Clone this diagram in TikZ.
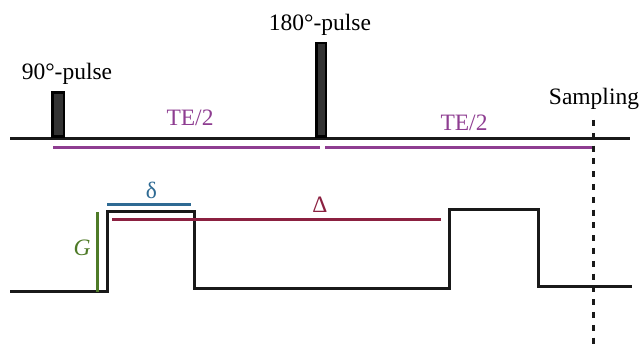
\documentclass[tikz,border=0pt]{standalone}
\usepackage{fontspec}
\setmainfont{Liberation Serif}
\definecolor{tepurple}{HTML}{8E3D91}
\definecolor{delmaroon}{HTML}{8B2040}
\definecolor{delblue}{HTML}{2E6A93}
\definecolor{ggreen}{HTML}{4E7A27}
\definecolor{pulsefill}{HTML}{333333}
\begin{document}
\begin{tikzpicture}[x=1pt,y=-1pt,
  wire/.style={line width=3pt,black!90},
  tline/.style={line width=3pt,tepurple},
  pulsebox/.style={draw=black,line width=2.7pt,fill=pulsefill},
  lbl/.style={font=\fontsize{23.5}{27}\selectfont,anchor=base,inner sep=0pt}]
\useasboundingbox (0,0) rectangle (641,344);
% RF line
\coordinate (rfL) at (10,139);
\coordinate (rfR) at (630,139);
\draw[wire] (rfL) -- (rfR);
% pulses
\draw[pulsebox] (52.5,92.5) rectangle (64,136.5);
\draw[pulsebox] (316.5,43) rectangle (326,136.5);
\node[lbl] (p90) at (67,80) {90°-pulse};
\node[lbl] (p180) at (320,31) {180°-pulse};
\node[lbl] (samp) at (594,105) {Sampling};
% TE/2
\coordinate (te1a) at (53,148); \coordinate (te1b) at (320,148);
\coordinate (te2a) at (325,148); \coordinate (te2b) at (592,148);
\draw[tline] (te1a) -- (te1b);
\draw[tline] (te2a) -- (te2b);
\node[lbl,text=tepurple] (te1) at (190,125.5) {TE/2};
\node[lbl,text=tepurple] (te2) at (464,131) {TE/2};
% sampling dashed
\coordinate (sTop) at (593,120);
\coordinate (sBot) at (593,344);
\draw[line width=3pt,black!90,dash pattern=on 6pt off 6.8pt] (sTop) -- (sBot);
% gradient waveform
\draw[wire,line join=miter] (10,292) -- (107,292) -- (107,212) -- (194,212) -- (194,288.5)
  -- (449,288.5) -- (449,210) -- (538,210) -- (538,287) -- (632,287);
% G
\coordinate (gTop) at (97,212.5); \coordinate (gBot) at (97,292);
\draw[line width=3pt,ggreen] (gTop) -- (gBot);
\node[lbl,text=ggreen,font=\fontsize{23.5}{27}\selectfont\itshape] (g) at (82,255.5) {G};
% delta small
\coordinate (dA) at (107,204.5); \coordinate (dB) at (191,204.5);
\draw[line width=3pt,delblue] (dA) -- (dB);
\node[lbl,text=delblue] (dl) at (151.5,199) {δ};
% Delta big
\coordinate (DA) at (112,220); \coordinate (DB) at (441,220);
\draw[line width=3pt,delmaroon] (DA) -- (DB);
\node[lbl,text=delmaroon] (Dl) at (320,213) {Δ};
\end{tikzpicture}
\end{document}
